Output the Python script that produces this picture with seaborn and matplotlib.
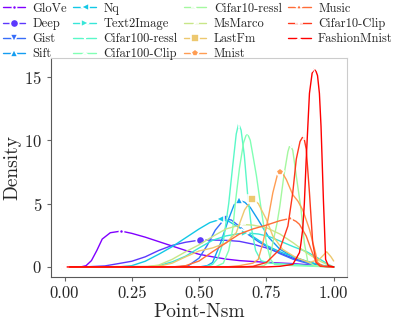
import numpy as np
import matplotlib
matplotlib.use("Agg")
import matplotlib.pyplot as plt
import seaborn as sns

# dataset names and markers (legend order)
names = ["GloVe", "Deep", "Gist", "Sift", "Nq", "Text2Image", "Cifar100-ressl",
         "Cifar100-Clip", "Cifar10-ressl", "MsMarco", "LastFm", "Mnist",
         "Music", "Cifar10-Clip", "FashionMnist"]
markers = [".", "o", "v", "^", "<", ">", "1", "2", "3", "4", "s", "p", "*", "+", "x"]

# density curves (x = Point-Nsm, y = density)
glove_x = [0, 0.06, 0.08, 0.10, 0.12, 0.14, 0.17, 0.21, 0.25, 0.30, 0.35, 0.40, 0.45, 0.50,
           0.55, 0.60, 0.65, 0.70, 0.75, 0.80, 0.85, 0.90, 0.95, 0.98, 1.0]
glove_y = [0, 0, 0.1, 0.5, 1.3, 2.2, 2.7, 2.83, 2.65, 2.35, 2.0, 1.65, 1.3, 1.0,
           0.8, 0.62, 0.5, 0.43, 0.37, 0.31, 0.26, 0.18, 0.08, 0.02, 0]

deep_x = [0, 0.07, 0.15, 0.21, 0.25, 0.30, 0.35, 0.40, 0.45, 0.505, 0.55, 0.60, 0.65,
          0.70, 0.75, 0.80, 0.86, 0.92, 0.96, 1.0]
deep_y = [0, 0, 0.08, 0.3, 0.45, 0.8, 1.3, 1.7, 1.95, 2.13, 2.12, 2.1, 2.02,
          1.8, 1.5, 1.1, 0.6, 0.3, 0.1, 0]

gist_x = [0, 0.42, 0.46, 0.50, 0.53, 0.56, 0.595, 0.62, 0.65, 0.68, 0.72, 0.76, 0.80,
          0.85, 0.90, 0.95, 1.0]
gist_y = [0, 0, 0.1, 0.7, 1.7, 2.9, 3.81, 3.7, 3.2, 2.6, 2.0, 1.5, 1.05,
          0.6, 0.3, 0.1, 0]

sift_x = [0, 0.50, 0.53, 0.55, 0.58, 0.61, 0.63, 0.647, 0.67, 0.69, 0.72, 0.76, 0.80,
          0.85, 0.90, 0.95, 1.0]
sift_y = [0, 0, 0.1, 0.35, 1.9, 3.8, 4.9, 5.28, 5.1, 4.7, 3.7, 2.3, 1.4,
          0.8, 0.4, 0.12, 0]

nq_x = [0, 0.20, 0.25, 0.30, 0.35, 0.40, 0.45, 0.50, 0.54, 0.579, 0.61, 0.65, 0.70,
        0.75, 0.80, 0.85, 0.90, 0.95, 1.0]
nq_y = [0, 0, 0.1, 0.45, 1.0, 1.6, 2.3, 3.0, 3.5, 3.76, 3.6, 3.1, 2.4,
        1.7, 1.2, 0.8, 0.45, 0.15, 0]

t2i_x = [0, 0.30, 0.35, 0.40, 0.45, 0.50, 0.55, 0.60, 0.669, 0.72, 0.76, 0.80, 0.85,
         0.90, 0.95, 0.98, 1.0]
t2i_y = [0, 0, 0.1, 0.4, 0.85, 1.5, 2.1, 2.45, 2.7, 2.6, 2.4, 2.05, 1.6,
         1.2, 0.6, 0.2, 0]

c100r_x = [0, 0.52, 0.55, 0.57, 0.59, 0.61, 0.625, 0.638, 0.647, 0.656, 0.668, 0.68,
           0.695, 0.71, 0.73, 0.76, 0.85, 0.95, 1.0]
c100r_y = [0, 0, 0.2, 0.7, 2.0, 5.0, 8.0, 10.5, 11.3, 10.8, 8.8, 5.8,
           3.0, 1.3, 0.5, 0.3, 0.2, 0.05, 0]

c100c_x = [0, 0.56, 0.59, 0.61, 0.625, 0.636, 0.65, 0.665, 0.678, 0.69, 0.70, 0.713,
           0.731, 0.75, 0.765, 0.78, 0.85, 1.0]
c100c_y = [0, 0, 0.3, 1.3, 3.0, 5.3, 7.8, 9.8, 10.6, 10.0, 8.8, 7.2,
           4.5, 1.9, 0.6, 0.2, 0.1, 0]

c10r_x = [0, 0.70, 0.74, 0.76, 0.774, 0.79, 0.80, 0.815, 0.83, 0.838, 0.848, 0.861,
          0.879, 0.891, 0.904, 0.93, 1.0]
c10r_y = [0, 0, 0.1, 0.4, 1.9, 3.5, 4.8, 7.2, 9.1, 9.66, 9.2, 7.2,
          4.5, 1.9, 0.4, 0.1, 0]

msm_x = [0, 0.30, 0.35, 0.40, 0.45, 0.50, 0.55, 0.60, 0.66, 0.70, 0.75, 0.80, 0.85,
         0.90, 0.95, 0.98, 1.0]
msm_y = [0, 0, 0.15, 0.6, 1.2, 1.75, 2.4, 3.0, 3.35, 3.3, 3.1, 2.6, 1.9,
         1.1, 0.45, 0.15, 0]

lastfm_x = [0, 0.35, 0.40, 0.45, 0.50, 0.55, 0.60, 0.638, 0.669, 0.698, 0.72, 0.75,
            0.774, 0.81, 0.86, 0.91, 0.947, 0.974, 0.99, 1.0]
lastfm_y = [0, 0.05, 0.3, 0.8, 1.26, 1.5, 1.9, 2.7, 4.5, 5.38, 5.0, 3.75,
            2.44, 1.39, 0.74, 0.35, 0.6, 1.2, 0.8, 0.47]

mnist_x = [0, 0.60, 0.65, 0.70, 0.72, 0.737, 0.756, 0.774, 0.79, 0.799, 0.81, 0.824,
           0.848, 0.867, 0.885, 0.91, 0.929, 0.941, 0.96, 1.0]
mnist_y = [0, 0, 0.1, 0.3, 0.6, 1.9, 3.75, 5.86, 7.2, 7.51, 7.4, 6.9,
           5.7, 5.2, 4.5, 2.97, 1.4, 0.35, 0.05, 0]

music_x = [0, 0.40, 0.45, 0.50, 0.55, 0.60, 0.65, 0.70, 0.75, 0.80, 0.838, 0.86,
           0.873, 0.898, 0.916, 0.935, 0.96, 1.0]
music_y = [0, 0, 0.1, 0.47, 1.2, 1.9, 2.6, 3.0, 3.3, 3.65, 3.83, 3.6,
           3.36, 2.44, 1.39, 0.35, 0.05, 0]

c10c_x = [0, 0.65, 0.70, 0.75, 0.80, 0.83, 0.848, 0.861, 0.875, 0.888, 0.898, 0.91,
          0.922, 0.935, 0.95, 1.0]
c10c_y = [0, 0, 0.05, 0.35, 1.4, 3.23, 5.86, 8.5, 9.9, 10.37, 9.3, 5.86,
          1.92, 0.35, 0.05, 0]

fmnist_x = [0, 0.75, 0.80, 0.848, 0.873, 0.878, 0.885, 0.891, 0.898, 0.904, 0.91, 0.92,
            0.93, 0.94, 0.947, 0.953, 0.957, 0.962, 0.966, 0.97, 0.98, 1.0]
fmnist_y = [0, 0, 0.05, 0.2, 1.13, 1.8, 3.0, 5.0, 8.5, 11.1, 13.7, 15.3,
            15.7, 15.1, 13.7, 11.1, 8.5, 5.2, 3.0, 0.6, 0.1, 0]

curves = [(glove_x, glove_y), (deep_x, deep_y), (gist_x, gist_y), (sift_x, sift_y),
          (nq_x, nq_y), (t2i_x, t2i_y), (c100r_x, c100r_y), (c100c_x, c100c_y),
          (c10r_x, c10r_y), (msm_x, msm_y), (lastfm_x, lastfm_y), (mnist_x, mnist_y),
          (music_x, music_y), (c10c_x, c10c_y), (fmnist_x, fmnist_y)]

sns.set_style("ticks")
plt.rcParams["font.family"] = ["cmr10", "DejaVu Serif"]
plt.rcParams["mathtext.fontset"] = "cm"
plt.rcParams["axes.unicode_minus"] = False
plt.rcParams["axes.formatter.use_mathtext"] = True

colors = plt.cm.rainbow(np.linspace(0, 1, len(names)))

fig, ax = plt.subplots(figsize=(3.99, 3.19), dpi=100)
fig.subplots_adjust(left=0.128, right=0.870, bottom=0.132, top=0.818)

for (xs, ys), name, mk, col in zip(curves, names, markers, colors):
    peak = int(np.argmax(ys))
    sns.lineplot(x=xs, y=ys, ax=ax, color=col, marker=mk, markevery=[0, peak],
                 markersize=6, markeredgewidth=1.2, linewidth=1, label=name, sort=False)

ax.set_xticks([0, 0.25, 0.5, 0.75, 1.0])
ax.set_xticklabels(["0.00", "0.25", "0.50", "0.75", "1.00"])
ax.set_yticks([0, 5, 10, 15])
ax.tick_params(labelsize=12, length=3, width=0.8, color="0.4")
ax.set_xlabel("Point-Nsm", fontsize=14, labelpad=1)
ax.set_ylabel("Density", fontsize=14, labelpad=2)
for side in ["left", "bottom"]:
    ax.spines[side].set_color("0.35")
for side in ["top", "right"]:
    ax.spines[side].set_color("0.8")

handles, labels = ax.get_legend_handles_labels()
ax.get_legend().remove()
fig.legend(handles, labels, loc="upper left", bbox_to_anchor=(0.0, 1.0), ncol=4,
           frameon=False, fontsize=9, handlelength=1.8, handletextpad=0.6,
           columnspacing=0.5, labelspacing=0.25, borderaxespad=0.1, borderpad=0.1)

fig.savefig("out.png", dpi=100)
